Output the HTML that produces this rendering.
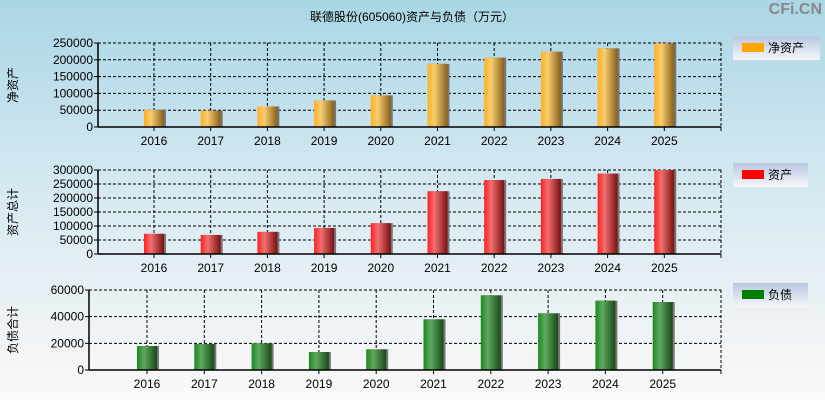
<!DOCTYPE html>
<html><head><meta charset="utf-8"><style>
html,body{margin:0;padding:0}
body{width:825px;height:400px;overflow:hidden;background:linear-gradient(#aad6e5,#d8eaf2 50%,#fbf8f8);font-family:"Liberation Sans","Noto Sans CJK SC",sans-serif}
svg{position:absolute;left:0;top:0}
</style></head><body>
<svg id="c" width="825" height="400">
<defs>
<linearGradient id="gO" x1="0" x2="1"><stop offset="0" stop-color="#ffb020"/><stop offset="0.35" stop-color="#f8cc70"/><stop offset="1" stop-color="#86601a"/></linearGradient>
<linearGradient id="gR" x1="0" x2="1"><stop offset="0" stop-color="#ff2020"/><stop offset="0.35" stop-color="#f07070"/><stop offset="1" stop-color="#7a1010"/></linearGradient>
<linearGradient id="gG" x1="0" x2="1"><stop offset="0" stop-color="#1a8a1a"/><stop offset="0.35" stop-color="#60a860"/><stop offset="1" stop-color="#184a18"/></linearGradient>
<linearGradient id="gL" x1="0" x2="0" y1="0" y2="1"><stop offset="0" stop-color="#b8c8e0"/><stop offset="1" stop-color="#f6f6fa"/></linearGradient>
</defs>
<text x="412" y="21" font-size="12" text-anchor="middle">联德股份(605060)资产与负债（万元）</text>
<text x="822" y="14" font-size="16" font-weight="bold" fill="#888" text-anchor="end">CFi.CN</text>
</svg>
<script>
const years=['2016','2017','2018','2019','2020','2021','2022','2023','2024','2025'];
const netAssets=[51000,49000,61000,79000,94000,188000,206000,224000,234000,249000];
const totalAssets=[72000,68000,79000,93000,110000,224000,264000,268000,287000,300000];
const liabilities=[18000,19500,20000,13500,15500,38000,56000,42500,52000,51000];
const ticks1=[0,50000,100000,150000,200000,250000];
const ticks2=[0,50000,100000,150000,200000,250000,300000];
const ticks3=[0,20000,40000,60000];
const svg=document.getElementById('c');
const NS='http://www.w3.org/2000/svg';
function mk(t,a,p){const e=document.createElementNS(NS,t);for(const k in a)e.setAttribute(k,a[k]);(p||svg).appendChild(e);return e;}
function panel(cfg){
  const {x0,x1,y0,y1,max,ticks,vals,fill,ytitle,first,step,name,leg,legColor,legW,legY}=cfg;
  const g=mk('g',{});
  
  
  const ys=v=>y1-(v/max)*(y1-y0);
  const xs=i=>first+i*step;
  ticks.forEach(t=>{
    const y=ys(t);
    if(t>0){const l=mk('line',{x1:x0,x2:x1,y1:y,y2:y,stroke:'#000','stroke-dasharray':'3,2'},g);}
    mk('line',{x1:x0-4,x2:x0,y1:y,y2:y,stroke:'#000'},g);
    const tx=mk('text',{x:x0-5,y:y+4,'font-size':12,'text-anchor':'end'},g);tx.textContent=t;
    
    
  });
  years.forEach((yr,i)=>{
    const x=xs(i);
    mk('line',{x1:x,x2:x,y1:y0,y2:y1,stroke:'#000','stroke-dasharray':'3,2'},g);
    mk('line',{x1:x,x2:x,y1:y1,y2:y1+4,stroke:'#000'},g);
    const tx=mk('text',{x:x,y:y1+18,'font-size':12,'text-anchor':'middle'},g);tx.textContent=yr;
    
    
  });
  mk('line',{x1:x1,x2:x1,y1:y0,y2:y1,stroke:'#000','stroke-dasharray':'3,2'},g);
  mk('line',{x1:x0,x2:x1,y1:y0,y2:y0,stroke:'#000','stroke-dasharray':'3,2'},g);
  mk('line',{x1:x1,x2:x1,y1:y1,y2:y1+4,stroke:'#000'},g);
  vals.forEach((v,i)=>{
    const x=xs(i),y=ys(v);
    mk('rect',{x:x-9,y:y,width:21,height:y1-y,fill:'#777'},g);
    const r=mk('rect',{x:x-10,y:y,width:20,height:y1-y,fill:fill},g);
    
    
  });
  mk('line',{x1:x0,x2:x0,y1:y0,y2:y1,stroke:'#000','stroke-width':1.5},g);
  mk('line',{x1:x0,x2:x1,y1:y1,y2:y1,stroke:'#000','stroke-width':1.5},g);
  const yt=mk('text',{x:0,y:0,'font-size':12,'text-anchor':'middle',transform:`translate(17,${(y0+y1)/2}) rotate(-90)`},g);
  yt.textContent=ytitle;
  
  
  const lg=mk('g',{},g);
  
  
  mk('rect',{x:733,y:legY,width:legW,height:24,fill:'url(#gL)'},lg);
  mk('rect',{x:742,y:legY+7,width:22,height:9,fill:legColor},lg);
  const lt=mk('text',{x:768,y:legY+16,'font-size':12},lg);lt.textContent=leg;
}
panel({x0:98,x1:721,y0:43,y1:127,max:250000,ticks:ticks1,vals:netAssets,fill:'url(#gO)',ytitle:'净资产',first:154,step:56.7,name:'net-assets',leg:'净资产',legColor:'#ffa500',legW:87,legY:36});
panel({x0:98,x1:721,y0:170,y1:254,max:300000,ticks:ticks2,vals:totalAssets,fill:'url(#gR)',ytitle:'资产总计',first:154,step:56.7,name:'total-assets',leg:'资产',legColor:'#ff0000',legW:75,legY:163});
panel({x0:89,x1:721,y0:290,y1:370,max:60000,ticks:ticks3,vals:liabilities,fill:'url(#gG)',ytitle:'负债合计',first:147,step:57.3,name:'liabilities',leg:'负债',legColor:'#008000',legW:75,legY:283});
</script>
</body></html>
